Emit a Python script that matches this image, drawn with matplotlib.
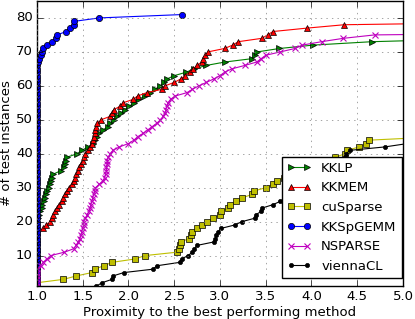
import numpy as np
import matplotlib
matplotlib.use('Agg')
from matplotlib import pyplot as plt

# performance profile: for each method, the ratios (sorted) of the test instances;
# the n-th ratio gives the n-th instance. "at_one" = instances where the method is the best.
kklp_at_one = 20
kklp_x = [1.01, 1.02, 1.03, 1.05, 1.06, 1.08, 1.09, 1.10, 1.11, 1.13, 1.14, 1.15, 1.17, 1.18,
          1.26, 1.30, 1.31, 1.32, 1.33, 1.44, 1.49, 1.56, 1.61, 1.64, 1.66, 1.68, 1.72, 1.78,
          1.80, 1.84, 1.88, 1.92, 1.96, 2.01, 2.06, 2.11, 2.18, 2.24, 2.29, 2.35, 2.39, 2.42,
          2.50, 2.63, 2.72, 2.85, 3.05, 3.35, 3.38, 3.41, 3.65, 4.02, 4.66, 6.0]

kkmem_at_one = 17
kkmem_x = [1.07, 1.10, 1.14, 1.16, 1.18, 1.20, 1.22, 1.24, 1.27, 1.29, 1.31, 1.33, 1.35, 1.38,
           1.40, 1.42, 1.43, 1.45, 1.46, 1.48, 1.50, 1.51, 1.53, 1.56, 1.58, 1.60, 1.61, 1.62,
           1.63, 1.64, 1.65, 1.66, 1.70, 1.80, 1.82, 1.84, 1.91, 1.94, 2.05, 2.10, 2.20, 2.37,
           2.40, 2.50, 2.57, 2.62, 2.67, 2.71, 2.75, 2.80, 2.82, 2.84, 2.87, 3.05, 3.14, 3.20,
           3.46, 3.52, 3.58, 3.95, 4.36, 7.0]

cusparse_at_one = 2
cusparse_x = [1.29, 1.43, 1.60, 1.63, 1.73, 1.82, 2.07, 2.18, 2.53, 2.55, 2.56, 2.57, 2.66,
              2.68, 2.70, 2.75, 2.80, 2.86, 2.92, 3.00, 3.01, 3.09, 3.11, 3.18, 3.24, 3.35,
              3.37, 3.50, 3.58, 3.62, 3.70, 3.78, 3.85, 3.92, 4.00, 4.10, 4.26, 4.37, 4.39,
              4.52, 4.60, 4.63, 5.4]

kkspgemm_at_one = 66
kkspgemm_x = [1.01, 1.02, 1.04, 1.05, 1.07, 1.11, 1.16, 1.21, 1.22, 1.32, 1.36, 1.40, 1.41,
              1.68, 2.59]

nsparse_at_one = 6
nsparse_x = [1.04, 1.07, 1.11, 1.15, 1.30, 1.40, 1.43, 1.45, 1.47, 1.48, 1.49, 1.50, 1.51,
             1.51, 1.53, 1.55, 1.57, 1.58, 1.59, 1.60, 1.61, 1.62, 1.63, 1.64, 1.68, 1.72,
             1.74, 1.75, 1.76, 1.76, 1.77, 1.77, 1.78, 1.80, 1.83, 1.90, 2.00, 2.06, 2.10,
             2.16, 2.21, 2.26, 2.31, 2.35, 2.38, 2.40, 2.41, 2.42, 2.43, 2.46, 2.51, 2.64,
             2.70, 2.77, 2.85, 2.93, 3.00, 3.05, 3.13, 3.27, 3.40, 3.45, 3.50, 3.66, 3.82,
             3.90, 4.11, 4.35, 4.69, 8.0]

viennacl_at_one = 0
viennacl_x = [1.65, 1.71, 1.82, 1.83, 1.95, 2.27, 2.31, 2.56, 2.58, 2.65, 2.70, 2.72, 2.75,
              2.93, 2.95, 2.96, 2.98, 3.01, 3.16, 3.24, 3.38, 3.39, 3.45, 3.46, 3.58, 3.66,
              3.74, 3.82, 3.88, 3.94, 4.00, 4.06, 4.12, 4.18, 4.24, 4.30, 4.34, 4.36, 4.37,
              4.38, 4.42, 4.80, 5.05]

series = [
    ('KKLP', kklp_at_one, kklp_x, 'g', '>', 4.5),
    ('KKMEM', kkmem_at_one, kkmem_x, 'r', '^', 4.5),
    ('cuSparse', cusparse_at_one, cusparse_x, 'y', 's', 4.5),
    ('KKSpGEMM', kkspgemm_at_one, kkspgemm_x, 'b', 'o', 4.5),
    ('NSPARSE', nsparse_at_one, nsparse_x, 'm', 'x', 4.0),
    ('viennaCL', viennacl_at_one, viennacl_x, 'k', '.', 6.0),
]


def main():
    plt.style.use('classic')
    plt.rcParams['font.family'] = ['DejaVu Sans']
    plt.rcParams['font.size'] = 9.5

    fig = plt.figure(figsize=(4.15, 3.19), dpi=100, facecolor='white')
    ax = fig.add_axes([0.089, 0.103, 0.882, 0.894])

    for name, at_one, xs, color, marker, msize in series:
        x = np.array([1.0] * at_one + xs)
        n = np.arange(1, len(x) + 1)
        ax.plot(x, n, '-', color=color, marker=marker, label=name,
                linewidth=0.8, markersize=msize,
                markeredgewidth=0.5 if marker != 'x' else 0.8)

    ax.set_xlim((1.0, 5.0))
    ax.set_ylim((1, 85))
    ax.set_xticks(np.arange(1.0, 5.01, 0.5))
    ax.set_yticks(np.arange(10, 81, 10))
    ax.tick_params(labelsize=9.5, pad=3)
    ax.set_xlabel('Proximity to the best performing method', fontsize=9.5, labelpad=2)
    ax.set_ylabel('# of test instances', fontsize=9.5, labelpad=2)
    ax.grid(True, color='0.5')

    ax.legend(loc='lower right', bbox_to_anchor=(0.997, 0.028), borderaxespad=0,
              numpoints=2, fontsize=9.5, handlelength=1.8, labelspacing=0.5)
    fig.savefig('out.png', dpi=100, facecolor='white')


if __name__ == "__main__":
    main()
